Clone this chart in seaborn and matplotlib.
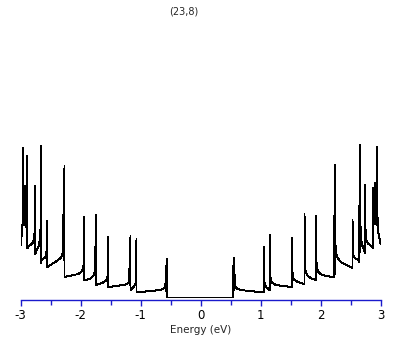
import matplotlib
matplotlib.use("Agg")
import matplotlib.pyplot as plt
import seaborn as sns
import pandas as pd

# van Hove singularities below the Fermi level (outer -> inner)
neg_energy = [-2.96, -2.945, -2.93, -2.915, -2.89, -2.76, -2.66, -2.56, -2.285, -2.27,
              -1.94, -1.75, -1.54, -1.185, -1.17, -1.07, -0.58, -0.565]
neg_peak = [150, 98, 112, 88, 142, 112, 152, 77, 100, 132,
            81, 83, 61, 35, 62, 59, 32, 39]
# floor level just after the previous singularity / just before this one
neg_seg_start = [52, 75, 72, 74, 70, 49, 43.5, 34.5, 30.5, 37,
                 20.5, 17, 12.5, 10.5, 12, 7.5, 5, 6.5]
neg_seg_end = [53, 76, 73, 75, 72, 51.5, 46.5, 37.5, 37, 38,
               23.5, 18.5, 14.5, 12.5, 13, 8.5, 7.5, 7]

# van Hove singularities above the Fermi level (inner -> outer)
pos_energy = [0.545, 0.56, 1.05, 1.15, 1.52, 1.73, 1.92, 2.22, 2.235,
              2.53, 2.645, 2.655, 2.74, 2.87, 2.89, 2.905, 2.92, 2.94]
pos_peak = [32, 39.5, 50.5, 62.5, 59.5, 83.5, 81.5, 82, 132.5,
            77.5, 92, 152.5, 112.5, 110, 92, 115, 82, 150.5]
# floor level just after this singularity / just before the next one
pos_seg_start = [6.5, 7.5, 8.5, 12.5, 15.5, 19.5, 22.5, 24, 35.5,
                 37.5, 46, 46.5, 51.5, 74, 74, 74, 74, 54.5]
pos_seg_end = [7, 5, 7.5, 10.5, 13.5, 17.5, 20, 23, 29.5,
               35.5, 45, 44.5, 49.5, 73, 73, 73, 72, 53]

e_min, e_max = -3.0, 3.0
gap_level = 0.0

# shape of the tail next to each spike
FOOT_D = [0.10, 0.04, 0.015, 0.005]
FOOT_W = [0.0, 0.05, 0.12, 0.30]

xs, ys = [], []
prev = e_min
for E, T, a, b in zip(neg_energy, neg_peak, neg_seg_start, neg_seg_end):
    xs.append(prev); ys.append(a)
    for d, w in zip(FOOT_D, FOOT_W):
        if d < E - prev:
            xs.append(E - d); ys.append(b + (T - b) * w)
    xs.append(E); ys.append(T)
    prev = E
xs.append(prev); ys.append(gap_level)

xs.append(pos_energy[0]); ys.append(gap_level)
for k, (E, T, a, b) in enumerate(zip(pos_energy, pos_peak, pos_seg_start, pos_seg_end)):
    nxt = pos_energy[k + 1] if k + 1 < len(pos_energy) else e_max
    xs.append(E); ys.append(T)
    for d, w in zip(FOOT_D[::-1], FOOT_W[::-1]):
        if d < nxt - E:
            xs.append(E + d); ys.append(a + (T - a) * w)
    xs.append(nxt); ys.append(b)

df = pd.DataFrame({"Energy": xs, "DOS": ys})

sns.set_style("white")
plt.rcParams['axes.unicode_minus'] = False
plt.rcParams['font.family'] = ['DejaVu Sans']

fig = plt.figure(figsize=(4.09, 3.45), dpi=100)
ax = fig.add_axes([20.7 / 409, 45 / 345, 360 / 409, 280 / 345])
sns.lineplot(data=df, x="Energy", y="DOS", sort=False, estimator=None,
             color="black", linewidth=0.7, antialiased=False, ax=ax)

blue = "#1a1acc"
ax.set_xlim(e_min, e_max)
ax.set_ylim(-2.5, 277.5)
ax.set_xticks([-3, -2, -1, 0, 1, 2, 3])
ax.set_xticks([-2.5, -1.5, -0.5, 0.5, 1.5, 2.5], minor=True)
ax.set_yticks([])
ax.set_ylabel("")
for s in ["left", "right", "top"]:
    ax.spines[s].set_visible(False)
ax.spines["bottom"].set_color(blue)
ax.spines["bottom"].set_linewidth(1.0)
ax.tick_params(axis="x", which="both", bottom=True)
ax.tick_params(axis="x", which="major", direction="out", length=4.2, width=1.0,
               color=blue, labelsize=8.5, labelcolor="black", pad=2.5)
ax.tick_params(axis="x", which="minor", direction="out", length=3.8, width=1.0, color=blue)
ax.set_xlabel("Energy (eV)", fontsize=7.5, labelpad=2)

fig.text(184 / 409, 1 - 12 / 345, "(23,8)", ha="center", va="center", fontsize=7)

fig.savefig("out.png", dpi=100, facecolor="white")
